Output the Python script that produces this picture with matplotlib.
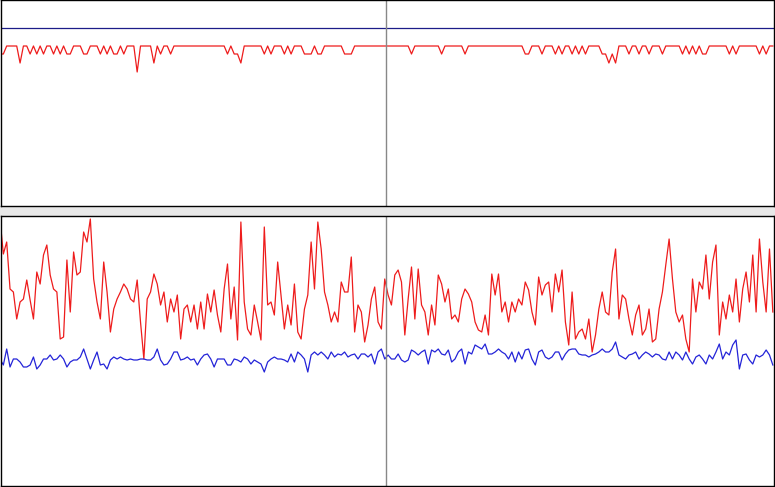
import matplotlib
matplotlib.use("Agg")
import matplotlib.pyplot as plt
import numpy as np

# top panel: red step-like series (dips from a ceiling) and flat blue reference
TOP_BLUE = 177
TOP_RED = [
    151, 151, 159, 159, 159, 159, 142, 159, 159, 151, 159, 151, 159, 151, 159, 159, 151, 159, 151, 159,
    151, 151, 159, 159, 159, 151, 151, 159, 159, 159, 151, 159, 151, 159, 151, 151, 159, 151, 159, 159,
    159, 133, 159, 159, 159, 159, 142, 159, 151, 159, 159, 151, 159, 159, 159, 159, 159, 159, 159, 159,
    159, 159, 159, 159, 159, 159, 159, 159, 151, 159, 151, 151, 142, 159, 159, 159, 159, 159, 159, 151,
    159, 151, 159, 159, 159, 151, 159, 151, 159, 159, 159, 151, 151, 151, 159, 151, 151, 159, 159, 159,
    159, 159, 159, 151, 151, 151, 159, 159, 159, 159, 159, 159, 159, 159, 159, 159, 159, 159, 159, 159,
    159, 159, 159, 151, 159, 159, 159, 159, 159, 159, 159, 159, 151, 159, 159, 159, 159, 159, 159, 151,
    159, 159, 159, 159, 159, 159, 159, 159, 159, 159, 159, 159, 159, 159, 159, 159, 159, 151, 151, 159,
    159, 159, 151, 159, 159, 159, 151, 159, 151, 159, 159, 151, 159, 151, 159, 151, 159, 159, 159, 159,
    151, 151, 142, 151, 142, 159, 159, 159, 151, 159, 159, 151, 159, 159, 151, 159, 159, 159, 151, 159,
    159, 159, 159, 159, 151, 159, 151, 159, 151, 159, 151, 151, 159, 159, 159, 159, 159, 159, 151, 159,
    151, 159, 159, 159, 159, 159, 159, 151, 159, 151, 159, 159,
]

# bottom panel: noisy red series and calmer blue series
BOT_RED = [
    267, 232, 244, 197, 194, 167, 184, 187, 206, 186,
    167, 214, 202, 231, 241, 211, 197, 194, 147, 149,
    226, 174, 234, 211, 214, 254, 244, 267, 207, 184,
    167, 224, 194, 154, 177, 187, 194, 202, 197, 187,
    184, 206, 164, 127, 187, 194, 212, 202, 181, 194,
    164, 187, 174, 191, 147, 177, 181, 164,
    181, 157, 184, 157, 192, 174, 196, 171, 154, 197,
    222, 167, 199, 146, 264, 184, 157, 151, 181, 164,
    146, 259, 181, 184, 171, 224, 191, 157, 181, 161,
    202, 154, 147, 177, 191, 244, 197, 264, 237, 194,
    181, 164, 174, 164, 204, 194, 194, 229, 154, 181,
    174, 144, 161, 187, 199, 164, 157, 207,
    191, 181, 211, 216, 204, 151, 187, 219, 167, 217,
    181, 174, 151, 181, 161, 211, 202, 184, 197, 167,
    171, 164, 187, 197, 192, 184, 164, 156, 154, 171,
    151, 212, 191, 212, 174, 184, 164, 184, 174, 187,
    181, 204, 196, 174, 161, 209, 191, 201, 204, 174,
    212, 194, 216, 164, 141, 194, 147, 154,
    157, 147, 167, 134, 151, 177, 194, 174, 171, 214,
    237, 167, 191, 187, 167, 151, 171, 181, 151, 157,
    177, 144, 147, 177, 194, 221, 247, 207, 174, 164,
    171, 147, 134, 207, 174, 204, 197, 231, 187, 224,
    241, 151, 184, 167, 191, 174, 207, 164, 197, 214,
    184, 231, 174, 247, 204, 174, 237, 174,
]
BOT_BLUE = [
    127, 121, 137, 119, 127, 127, 124, 119, 119, 121,
    129, 117, 121, 127, 127, 131, 126, 127, 131, 127,
    119, 124, 126, 126, 129, 137, 127, 117, 126, 134,
    121, 122, 117, 126, 129, 127, 129, 127, 126, 127,
    126, 126, 127, 127, 126, 126, 129, 137, 126, 121,
    122, 127, 134, 134, 126, 127, 129, 126,
    127, 121, 127, 131, 132, 127, 119, 127, 127, 127,
    121, 121, 127, 126, 124, 129, 127, 122, 126, 124,
    122, 114, 124, 127, 129, 127, 127, 126, 124, 132,
    124, 134, 131, 127, 114, 131, 134, 131, 134, 131,
    127, 134, 129, 132, 131, 134, 129, 131, 132, 127,
    132, 132, 129, 132, 122, 134, 137, 127,
    131, 127, 127, 132, 126, 124, 126, 136, 134, 131,
    134, 136, 122, 136, 134, 137, 132, 131, 136, 124,
    127, 134, 137, 122, 134, 132, 141, 139, 137, 142,
    132, 132, 134, 137, 134, 132, 127, 134, 124, 134,
    127, 136, 137, 127, 121, 134, 136, 129, 127, 129,
    134, 134, 126, 132, 136, 137, 137, 132,
    131, 131, 129, 131, 132, 134, 137, 134, 134, 137,
    144, 131, 129, 127, 131, 132, 134, 127, 131, 134,
    132, 129, 132, 131, 127, 126, 134, 127, 134, 131,
    126, 134, 127, 122, 129, 131, 127, 122, 131, 127,
    134, 142, 127, 134, 131, 141, 146, 117, 131, 132,
    126, 122, 131, 129, 131, 136, 131, 121,
]
MARKER_X = 115.4  # sample index of the vertical divider

RED = "#ee1c1c"
BLUE = "#2424d8"
NAVY = "#1c1c88"
W, H = 775, 487


def style(ax):
    ax.set_xticks([]); ax.set_yticks([])
    for s in ax.spines.values():
        s.set_color("black"); s.set_linewidth(1.0)


def main():
    x = np.arange(len(BOT_RED))
    xlim = (0.15, 231.2)
    fig = plt.figure(figsize=(W / 100, H / 100), dpi=100)

    top = fig.add_axes([0.5 / W, (H - 205.5) / H, 773 / W, 205 / H])
    top.plot(x, TOP_RED, color=RED, lw=0.9)
    top.axhline(TOP_BLUE, color=NAVY, lw=0.9)
    top.axvline(MARKER_X, color="#888888", lw=1.0)
    top.set_xlim(*xlim); top.set_ylim(-0.5, 204.5)
    style(top)

    strip = fig.add_axes([0, (H - 215.5) / H, 1, 10 / H], facecolor="#e8e8e8", zorder=-1)
    strip.set_xticks([]); strip.set_yticks([])
    for s in strip.spines.values():
        s.set_visible(False)

    bot = fig.add_axes([0.5 / W, 1.5 / H, 773 / W, 270 / H])
    bot.plot(x, BOT_RED, color=RED, lw=0.9)
    bot.plot(x, BOT_BLUE, color=BLUE, lw=0.9)
    bot.axvline(MARKER_X, color="#888888", lw=1.0)
    bot.set_xlim(*xlim); bot.set_ylim(0.5, 270.5)
    style(bot)

    fig.savefig("out.png", dpi=100)
    plt.close(fig)


if __name__ == "__main__":
    main()
